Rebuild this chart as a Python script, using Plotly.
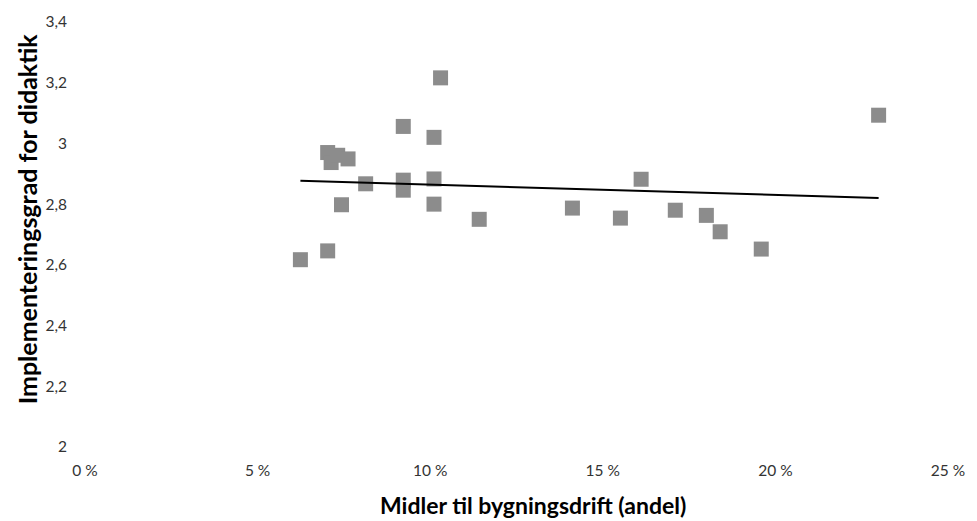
import numpy as np
import plotly.graph_objects as go

# Share of funds for building operation (fraction)
andel = [0.1030, 0.0922, 0.1011, 0.0703, 0.0713, 0.0732, 0.0762, 0.0813,
         0.0922, 0.0922, 0.1011, 0.0743, 0.1011, 0.1142, 0.0703, 0.0624,
         0.1412, 0.1551, 0.1611, 0.1710, 0.1800, 0.1840, 0.1959, 0.2299]
# Implementation degree for didactics
grad = [3.216, 3.056, 3.020, 2.970, 2.937, 2.961, 2.949, 2.867,
        2.879, 2.846, 2.883, 2.798, 2.800, 2.750, 2.646, 2.617,
        2.787, 2.754, 2.882, 2.780, 2.763, 2.709, 2.652, 3.093]

x_ticks = [0, 0.05, 0.10, 0.15, 0.20, 0.25]
x_tick_labels = ["0 %", "5 %", "10 %", "15 %", "20 %", "25 %"]
y_ticks = [2, 2.2, 2.4, 2.6, 2.8, 3, 3.2, 3.4]
y_tick_labels = ["2", "2,2", "2,4", "2,6", "2,8", "3", "3,2", "3,4"]

# Linear trend line
slope, intercept = np.polyfit(andel, grad, 1)
tx = [min(andel), max(andel)]
ty = [slope * v + intercept for v in tx]

font = "Lato, 'Open Sans', sans-serif"
tick_font = dict(family=font, size=15.5, color="#333333")

W, H = 977, 521
ML, MR, MT, MB = 84.5, 22, 21.5, 74

fig = go.Figure()
fig.add_trace(go.Scatter(x=andel, y=grad, mode="markers",
                         marker=dict(symbol="square", size=15, color="#8c8c8c",
                                     line=dict(width=0)),
                         showlegend=False, hoverinfo="x+y"))
fig.add_trace(go.Scatter(x=tx, y=ty, mode="lines",
                         line=dict(color="black", width=2),
                         showlegend=False, hoverinfo="skip"))

pw = W - ML - MR
ph = H - MT - MB

def px_to_paper(px, py):
    return (px - ML) / pw, (H - MB - py) / ph

xt_x, xt_y = px_to_paper(536.5, 505)
yt_x, yt_y = px_to_paper(26, 219)

fig.update_layout(
    width=W, height=H,
    margin=dict(l=ML, r=MR, t=MT, b=MB),
    plot_bgcolor="white", paper_bgcolor="white",
    font=dict(family=font, size=15, color="#333333"),
    xaxis=dict(range=[0, 0.25], tickvals=x_ticks, ticktext=x_tick_labels,
               showgrid=False, zeroline=False, showline=False,
               ticks="", ticklabelstandoff=12, tickfont=tick_font),
    yaxis=dict(range=[2, 3.4], tickvals=y_ticks, ticktext=y_tick_labels,
               showgrid=False, zeroline=False, showline=False,
               ticks="", ticklabelstandoff=17, tickfont=tick_font),
    annotations=[
        dict(text="<b>Midler til bygningsdrift (andel)</b>", x=xt_x, y=xt_y,
             xref="paper", yref="paper", showarrow=False,
             xanchor="center", yanchor="middle",
             font=dict(family=font, size=23, color="black")),
        dict(text="<b>Implementeringsgrad for didaktik</b>", x=yt_x, y=yt_y,
             xref="paper", yref="paper", showarrow=False, textangle=-90,
             xanchor="center", yanchor="middle",
             font=dict(family=font, size=25, color="black")),
    ],
)

fig.write_html("out.html", config={"displayModeBar": False},
               post_script="document.body.style.margin='0';document.body.style.overflow='hidden';")
